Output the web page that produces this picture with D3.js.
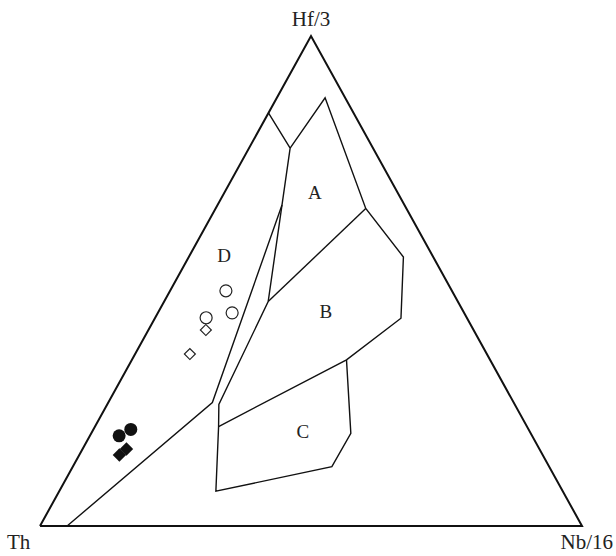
<!DOCTYPE html>
<html>
<head>
<meta charset="utf-8">
<script src="https://cdn.jsdelivr.net/npm/d3@7"></script>
<style>
  body { margin: 0; background: #fff; }
  svg text { font-family: "Liberation Serif", "Times New Roman", serif; fill: #222; }
</style>
</head>
<body>
<div id="chart"></div>
<script>
// Ternary values as [Th, Hf/3, Nb/16] in percent
const apexLabels = ["Th", "Hf/3", "Nb/16"];

// Field boundary polylines
const boundaryDA = [[15.7, 84.3, 0], [15.3, 77.1, 7.6], [35.0, 45.8, 19.2], [54.6, 24.8, 20.6],
  [56.9, 20.3, 22.8], [64.0, 7.1, 28.9], [40.1, 12.1, 47.8], [33.2, 18.9, 47.9], [26.5, 33.9, 39.6]];
const boundaryABC = [[15.3, 77.1, 7.6], [3.7, 87.4, 8.9], [7.5, 64.8, 27.7], [5.5, 54.9, 39.6],
  [12.2, 42.4, 45.4], [26.5, 33.9, 39.6], [56.9, 20.3, 22.8]];
const boundaryAB = [[35.0, 45.8, 19.2], [7.5, 64.8, 27.7]];
const boundaryD = [[95.0, 0, 5.0], [55.6, 25.2, 19.2], [22.6, 65.5, 11.9]];

// Field labels
const fieldNames = ["A", "B", "C", "D"];
const fieldPos = [[15.3, 68.0, 16.7], [25.3, 43.9, 30.8], [41.8, 19.4, 38.8], [38.4, 55.3, 6.3]];

// Samples
const filledCircles = [[76.2, 18.4, 5.4], [73.4, 19.7, 6.9]];
const filledDiamonds = [[78.1, 14.5, 7.4], [76.2, 15.7, 8.1]];
const openCircles = [[41.7, 48.0, 10.3], [42.8, 43.5, 13.7], [48.1, 42.5, 9.4]];
const openDiamonds = [[49.4, 40.0, 10.6], [54.8, 35.1, 10.1]];

const W = 616, H = 556;
const svg = d3.select("#chart").append("svg")
    .attr("width", W).attr("height", H);

// Unit triangle -> pixels
const x = d3.scaleLinear().domain([0, 1]).range([40, 582]);
const y = d3.scaleLinear().domain([0, 1]).range([526, 36]);

function proj(d) {
    const s = d[0] + d[1] + d[2];
    const a = d[1] / s, c = d[2] / s;
    return [x(c + a / 2), y(a)];
}

const line = d3.line().x(d => proj(d)[0]).y(d => proj(d)[1]);

// Outer triangle
svg.append("path")
    .datum([[100, 0, 0], [0, 0, 100], [0, 100, 0], [100, 0, 0]])
    .attr("d", line)
    .attr("fill", "none")
    .attr("stroke", "#111")
    .attr("stroke-width", 2)
    .attr("stroke-linejoin", "miter");

// Field boundaries
[boundaryDA, boundaryABC, boundaryAB, boundaryD].forEach(b => {
    svg.append("path")
        .datum(b)
        .attr("d", line)
        .attr("fill", "none")
        .attr("stroke", "#111")
        .attr("stroke-width", 1.4);
});

// Field labels
svg.selectAll(".field")
    .data(fieldNames)
    .enter().append("text")
    .attr("class", "field")
    .attr("x", (d, i) => proj(fieldPos[i])[0])
    .attr("y", (d, i) => proj(fieldPos[i])[1])
    .attr("text-anchor", "middle")
    .attr("dy", "0.35em")
    .style("font-size", "19px")
    .text(d => d);

// Apex labels
svg.append("text").attr("x", 311).attr("y", 26).attr("text-anchor", "middle")
    .style("font-size", "21px").text(apexLabels[1]);
svg.append("text").attr("x", 7).attr("y", 549)
    .style("font-size", "21px").text(apexLabels[0]);
svg.append("text").attr("x", 613).attr("y", 549).attr("text-anchor", "end")
    .style("font-size", "21px").text(apexLabels[2]);

// Samples
const square = d3.symbol().type(d3.symbolSquare);

svg.selectAll(".oc").data(openCircles).enter().append("circle")
    .attr("cx", d => proj(d)[0]).attr("cy", d => proj(d)[1]).attr("r", 6)
    .attr("fill", "#fff").attr("stroke", "#222").attr("stroke-width", 1.2);

svg.selectAll(".od").data(openDiamonds).enter().append("path")
    .attr("d", square.size(60)())
    .attr("transform", d => `translate(${proj(d)[0]},${proj(d)[1]}) rotate(45)`)
    .attr("fill", "#fff").attr("stroke", "#222").attr("stroke-width", 1.2);

svg.selectAll(".fc").data(filledCircles).enter().append("circle")
    .attr("cx", d => proj(d)[0]).attr("cy", d => proj(d)[1]).attr("r", 6.5)
    .attr("fill", "#111");

svg.selectAll(".fd").data(filledDiamonds).enter().append("path")
    .attr("d", square.size(90)())
    .attr("transform", d => `translate(${proj(d)[0]},${proj(d)[1]}) rotate(45)`)
    .attr("fill", "#111");
</script>
</body>
</html>
